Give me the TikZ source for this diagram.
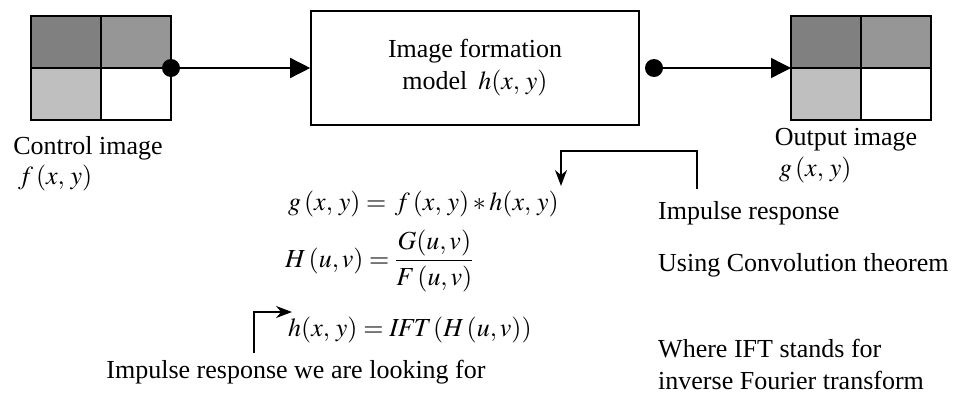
\documentclass[tikz,border=0pt]{standalone}
\usepackage{amsmath}
\usepackage{mathptmx}
\usepackage{fontspec}
\setmainfont{Liberation Serif}
\usetikzlibrary{arrows.meta}

\tikzset{
  cell/.style={draw=black, line width=1.6pt, minimum width=70pt, minimum height=52pt, inner sep=0pt, outer sep=0pt},
  txt/.style={inner sep=0pt, font=\fontsize{26}{32}\selectfont},
  big/.style={-{Triangle[length=20pt,width=20pt]}, line width=1.4pt},
  small/.style={-{Stealth[length=16pt,width=12pt]}, line width=1.4pt},
  dot/.style={circle, fill=black, minimum size=18pt, inner sep=0pt}
}

\begin{document}
\begin{tikzpicture}[x=1pt,y=-1pt]
\useasboundingbox (0,0) rectangle (957,394);

% control image
\node[cell, fill=black!50] (ctl) at (66,42) {};
\node[cell, fill=black!41] (ctr) at (136,42) {};
\node[cell, fill=black!25] (cbl) at (66,94) {};
\node[cell, fill=white] (cbr) at (136,94) {};

% output image
\node[cell, fill=black!50] (otl) at (826,42) {};
\node[cell, fill=black!41] (otr) at (896,42) {};
\node[cell, fill=black!25] (obl) at (826,94) {};
\node[cell, fill=white] (obr) at (896,94) {};

\node[draw, line width=1.6pt, minimum width=328pt, minimum height=114pt, align=center, txt] (model) at (475,68) {Image formation\\model \,$h(x,\, y)$};

\node[dot] (din) at (ctr.south east) {};
\node[dot] (dout) at (654,68) {};
\draw[big] (din.center) -- (model.west);
\draw[big] (dout.center) -- (otl.south west);

\node[txt] (ctlabel) at (88,148) {Control image};
\node[txt, anchor=west] (fxy) at (18,178) {$f\,(x,\, y)$};
\node[txt] (outlabel) at (846,140) {Output image};
\node[txt, anchor=west] (gxy) at (779,170) {$g\,(x,\, y)$};

% equations
\node[txt, anchor=west] (eqa) at (288,204) {$g\,(x,\, y) = \,f\,(x,\, y) * h(x,\, y)$};
\node[txt, anchor=west] (eqb) at (285,261) {$H\,(u,v) = \dfrac{G(u,v)}{F\,(u,v)}$};
\node[txt, anchor=west] (eqc) at (288,330) {$h(x,\, y) = \mathit{IFT}\,(H\,(u,v))$};

\node[txt] (seek) at (296,372) {Impulse response we are looking for};
\node[txt, anchor=west] (imp) at (658,213) {Impulse response};
\node[txt, anchor=west] (conv) at (658,265) {Using Convolution theorem};
\node[txt, anchor=west, align=left] (ift) at (658,364) {Where IFT stands for\\inverse Fourier transform};

\coordinate (impstart) at (697,189);
\coordinate (impend) at (561,186);
\coordinate (seekstart) at (254,353);
\coordinate (seekend) at (292,312);
\draw[small] (impstart) -- ++(0,-38) -| (impend);
\draw[small] (seekstart) |- (seekend);
\end{tikzpicture}
\end{document}
